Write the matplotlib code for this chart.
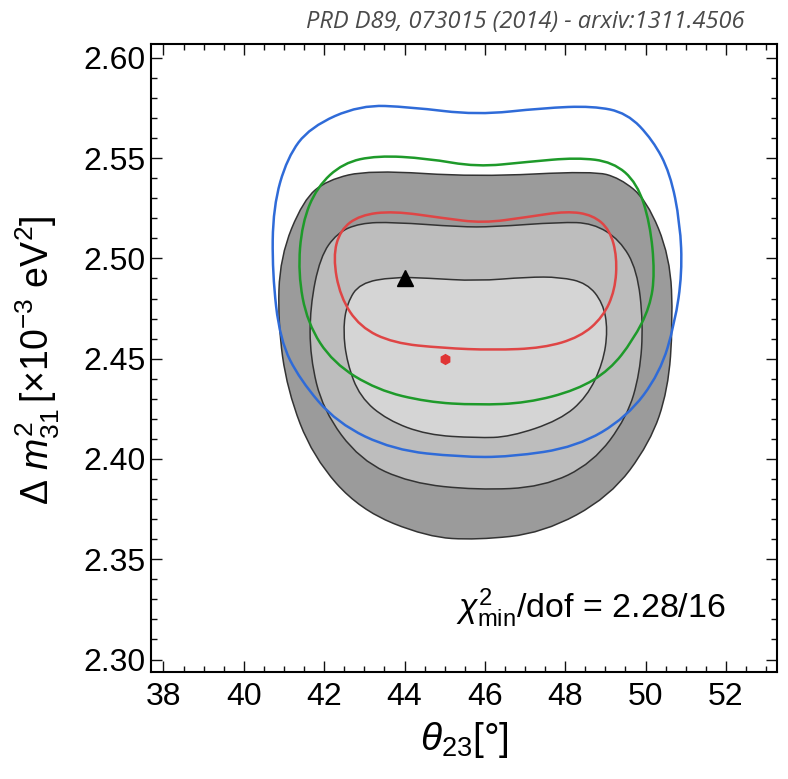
import numpy as np
import matplotlib
matplotlib.use("Agg")
import matplotlib.pyplot as plt
from matplotlib.path import Path
from matplotlib.patches import PathPatch
from matplotlib.ticker import MultipleLocator, FormatStrFormatter

plt.rcParams['font.family'] = ['Liberation Sans', 'DejaVu Sans']
plt.rcParams['mathtext.fontset'] = 'custom'
plt.rcParams['mathtext.rm'] = 'Liberation Sans'
plt.rcParams['mathtext.it'] = 'Liberation Sans:italic'
plt.rcParams['mathtext.bf'] = 'Liberation Sans:bold'

# grey filled regions (1, 2, 3 sigma), theta23 [deg] vs dm31^2 [1e-3 eV^2]
s3_x = [42.07, 43.14, 45.80, 48.69, 49.36, 50.03, 50.61, 50.68, 50.56, 50.11,
        49.11, 47.45, 45.80, 44.56, 42.89, 41.72, 41.08, 40.85, 40.90, 41.48]
s3_y = [2.5391, 2.5441, 2.5406, 2.5436, 2.5401, 2.5291, 2.5007, 2.4678, 2.4344, 2.4080,
        2.3811, 2.3631, 2.3596, 2.3611, 2.3746, 2.4010, 2.4344, 2.4678, 2.5007, 2.5291]

s2_x = [42.32, 42.89, 43.72, 45.38, 46.20, 47.87, 48.69, 49.36, 49.79, 49.94, 49.86,
        49.54, 48.69, 47.45, 45.80, 44.14, 42.89, 41.97, 41.65, 41.65, 41.90]
s2_y = [2.5127, 2.5176, 2.5181, 2.5157, 2.5157, 2.5181, 2.5176, 2.5092, 2.4942, 2.4678, 2.4429,
        2.4209, 2.3980, 2.3860, 2.3845, 2.3880, 2.3995, 2.4244, 2.4508, 2.4758, 2.5007]

s1_x = [42.57, 42.89, 43.72, 44.56, 45.80, 47.05, 47.87, 48.54, 48.94, 49.06,
        48.94, 48.54, 47.87, 46.63, 45.80, 44.56, 43.57, 42.89, 42.57, 42.47]
s1_y = [2.4778, 2.4877, 2.4907, 2.4902, 2.4887, 2.4907, 2.4907, 2.4877, 2.4778, 2.4643,
        2.4479, 2.4309, 2.4194, 2.4110, 2.4105, 2.4120, 2.4194, 2.4309, 2.4479, 2.4643]

# coloured contours
red_x = [42.40, 42.89, 43.72, 44.96, 45.95, 47.05, 48.04, 48.69, 49.11, 49.29,
         49.24, 48.94, 48.37, 47.45, 46.20, 44.96, 43.72, 42.89, 42.40, 42.22]
red_y = [2.5142, 2.5216, 2.5236, 2.5201, 2.5176, 2.5206, 2.5236, 2.5216, 2.5142, 2.5007,
         2.4842, 2.4708, 2.4608, 2.4553, 2.4543, 2.4553, 2.4578, 2.4658, 2.4808, 2.5007]

green_x = [41.82, 42.47, 43.32, 44.56, 45.80, 47.05, 48.29, 49.19, 49.79, 50.11, 50.23, 50.11,
           49.69, 49.11, 48.29, 47.05, 45.80, 44.56, 43.32, 42.22, 41.58, 41.35, 41.45]
green_y = [2.5356, 2.5476, 2.5513, 2.5499, 2.5456, 2.5481, 2.5503, 2.5481, 2.5376, 2.5176, 2.4927, 2.4758,
           2.4593, 2.4444, 2.4344, 2.4279, 2.4269, 2.4284, 2.4344, 2.4479, 2.4678, 2.4927, 2.5176]

blue_x = [41.08, 41.65, 42.89, 44.14, 45.80, 47.45, 48.69, 49.54, 50.18, 50.61, 50.86, 50.91,
          50.73, 50.36, 49.54, 48.29, 46.63, 45.38, 43.72, 42.32, 41.40, 40.90, 40.71, 40.73]
blue_y = [2.5503, 2.5655, 2.5765, 2.5755, 2.5715, 2.5750, 2.5760, 2.5725, 2.5590, 2.5426, 2.5176, 2.4927,
          2.4678, 2.4429, 2.4209, 2.4060, 2.4010, 2.4010, 2.4045, 2.4179, 2.4394, 2.4593, 2.4927, 2.5256]

best_tri = (44.0, 2.49)
best_red = (45.0, 2.45)
chi_text = r'$\chi^2_{\mathrm{min}}$/dof = 2.28/16'


def closed_path(xs, ys):
    # smooth closed outline: quadratic pieces through the midpoints
    p = np.column_stack([xs, ys])
    mid = (p + np.roll(p, -1, axis=0)) / 2
    verts = [mid[-1]]
    codes = [Path.MOVETO]
    for i in range(len(p)):
        verts += [p[i], mid[i]]
        codes += [Path.CURVE3, Path.CURVE3]
    return Path(verts, codes)


fig = plt.figure(figsize=(7.88, 7.79), dpi=100)
ax = fig.add_axes([0.1916, 0.1374, 0.7944, 0.8061])

for xs, ys, fc in [(s3_x, s3_y, '#9b9b9b'), (s2_x, s2_y, '#bdbdbd'), (s1_x, s1_y, '#d5d5d5')]:
    ax.add_patch(PathPatch(closed_path(xs, ys), facecolor=fc, edgecolor='#333333', lw=1.1))

for xs, ys, c in [(blue_x, blue_y, '#2f6bd8'), (green_x, green_y, '#1e9a2a'), (red_x, red_y, '#df4545')]:
    ax.add_patch(PathPatch(closed_path(xs, ys), facecolor='none', edgecolor=c, lw=1.8))

ax.plot(*best_tri, marker='^', color='black', ms=12, ls='none')
ax.plot(*best_red, marker='h', color='#e03535', ms=7, ls='none')

ax.set_xlim(37.69, 53.27)
ax.set_ylim(2.2938, 2.6069)
ax.xaxis.set_major_locator(MultipleLocator(2))
ax.xaxis.set_minor_locator(MultipleLocator(0.5))
ax.yaxis.set_major_locator(MultipleLocator(0.05))
ax.yaxis.set_minor_locator(MultipleLocator(0.01))
ax.yaxis.set_major_formatter(FormatStrFormatter('%.2f'))
ax.tick_params(which='both', direction='in', top=True, right=True, width=1.0, color='#111111')
ax.tick_params(which='major', length=8, labelsize=23)
ax.tick_params(which='minor', length=4.3)
ax.tick_params(axis='x', pad=7)
ax.tick_params(axis='y', pad=4)
for s in ax.spines.values():
    s.set_linewidth(1.5)

ax.text(52.0, 2.3205, chi_text, fontsize=24.5, ha='right', va='baseline')
ax.set_xlabel(r'$\theta_{23}$[°]', fontsize=28, labelpad=6)
ax.set_ylabel(r'$\Delta\ m^2_{31}\,[\times 10^{-3}\ \mathrm{eV}^2]$', fontsize=27)
ax.yaxis.set_label_coords(-0.142, 0.497)

fig.text(745 / 788, 1 - 28 / 779, 'PRD D89, 073015 (2014) - arxiv:1311.4506',
         family='Open Sans', style='italic', fontsize=17, color='#4a4a4a',
         ha='right', va='baseline')

fig.savefig('out.png', dpi=100)
